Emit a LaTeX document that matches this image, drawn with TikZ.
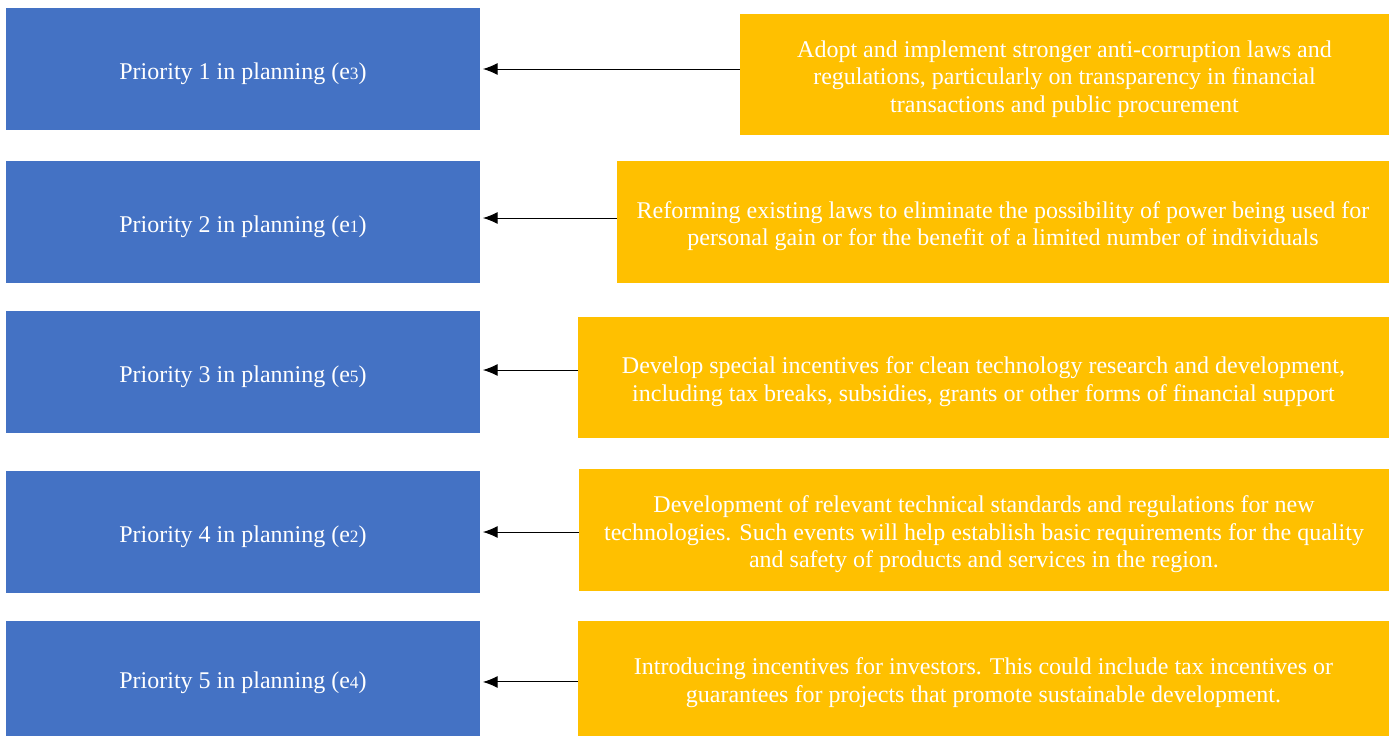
\documentclass[tikz,border=0pt]{standalone}
\usepackage{fontspec}
\setmainfont{Liberation Serif}
\usetikzlibrary{arrows.meta}
\definecolor{prioblue}{HTML}{4472C4}
\definecolor{actyellow}{HTML}{FFC000}
\newcommand{\sube}[1]{e{\fontsize{13}{13}\selectfont #1}}
\newcommand{\toplift}{\rule{0pt}{19pt}}

\begin{document}
\begin{tikzpicture}[x=0.75pt,y=-0.75pt,
  prio/.style={fill=prioblue,text=white,inner sep=0pt,minimum width=355.5pt,minimum height=91.5pt,font=\fontsize{18}{20.6}\selectfont},
  action/.style={fill=actyellow,text=white,inner sep=0pt,align=center,font=\fontsize{18}{20.6}\selectfont},
  back/.style={line width=0.75pt,-{Latex[length=11pt,width=9pt]},shorten >=2pt}]
\useasboundingbox (0,0) rectangle (1393,736);
% priorities
\node[prio] (p1) at (243,69) {\toplift Priority 1 in planning (\sube{3})};
\node[prio] (p2) at (243,222) {\toplift Priority 2 in planning (\sube{1})};
\node[prio] (p3) at (243,372) {\toplift Priority 3 in planning (\sube{5})};
\node[prio] (p4) at (243,532) {\toplift Priority 4 in planning (\sube{2})};
\node[prio,minimum height=86.25pt] (p5) at (243,678.5) {\toplift Priority 5 in planning (\sube{4})};
% actions
\node[action,minimum width=486.75pt,minimum height=90.75pt] (a1) at (1064.5,74.5) {\toplift Adopt and implement stronger anti-corruption laws and\\regulations, particularly on transparency in financial\\transactions and public procurement};
\node[action,minimum width=579pt,minimum height=91.5pt] (a2) at (1003,222) {\toplift Reforming existing laws to eliminate the possibility of power being used for\\personal gain or for the benefit of a limited number of individuals};
\node[action,minimum width=608.25pt,minimum height=90.75pt] (a3) at (983.5,377.5) {\toplift Develop special incentives for clean technology research and development,\\including tax breaks, subsidies, grants or other forms of financial support};
\node[action,minimum width=607.5pt,minimum height=91.5pt] (a4) at (984,530) {\toplift Development of relevant technical standards and regulations for new\\technologies. Such events will help establish basic requirements for the quality\\and safety of products and services in the region.};
\node[action,minimum width=608.25pt,minimum height=86.25pt] (a5) at (983.5,678.5) {\toplift Introducing incentives for investors. This could include tax incentives or\\guarantees for projects that promote sustainable development.};
% arrows
\draw[back] (a1.west |- p1.east) -- (p1.east);
\draw[back,transform canvas={yshift=3pt}] (a2.west |- p2.east) -- (p2.east);
\draw[back,transform canvas={yshift=1.5pt}] (a3.west |- p3.east) -- (p3.east);
\draw[back] (a4.west |- p4.east) -- (p4.east);
\draw[back,transform canvas={yshift=-2.6pt}] (a5.west |- p5.east) -- (p5.east);
\end{tikzpicture}
\end{document}
